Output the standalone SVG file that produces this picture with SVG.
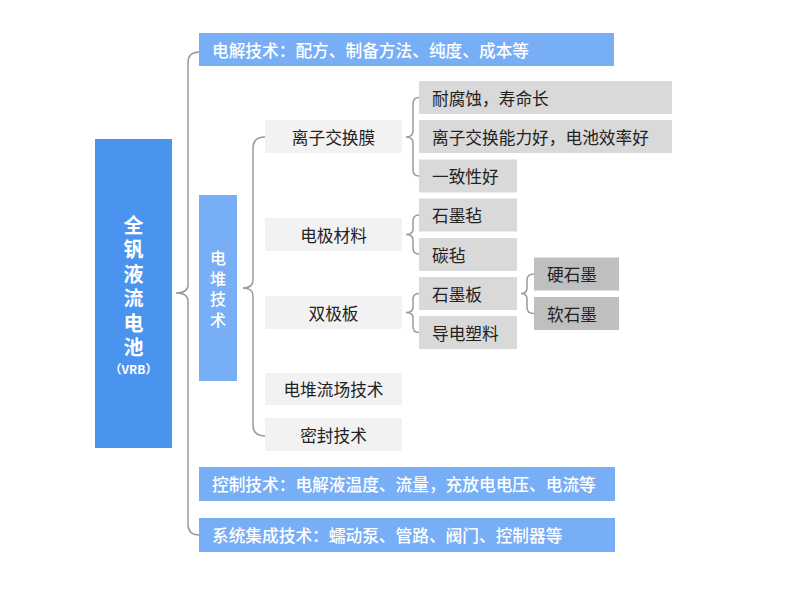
<svg xmlns="http://www.w3.org/2000/svg" width="800" height="609" viewBox="0 0 800 609">
<style>
text{font-family:"Noto Sans CJK SC","Noto Sans",sans-serif;dominant-baseline:central}
.w{fill:#ffffff}
.d{fill:#222222}
.t{font-size:16.7px}
.v{writing-mode:vertical-rl;text-orientation:upright}
.br{fill:none;stroke:#9a9a9a;stroke-width:1.5}
.l2{fill:#f2f2f2}
.l3{fill:#d9d9d9}
.l4{fill:#bfbfbf}
.lb{fill:#78aef5}
</style>
<rect width="800" height="609" fill="#ffffff"/>
<g id="connectors">
<path class="br" d="M199,52 Q188,52 188,63 L188,285 Q188,293 176,293 Q188,293 188,301 L188,524 Q188,535 199,535"/>
<path class="br" d="M265,137 Q253,137 253,148 L253,280 Q253,288 243,288 Q253,288 253,296 L253,425 Q253,436 265,436"/>
<path class="br" d="M419,97.5 Q413,97.5 413,104 L413,131 Q413,137 406,137 Q413,137 413,143 L413,170 Q413,176 419,176"/>
<path class="br" d="M419,215 Q413,215 413,221 L413,229 Q413,234.5 406,234.5 Q413,234.5 413,240 L413,248 Q413,254 419,254"/>
<path class="br" d="M419,293.5 Q413,293.5 413,299.5 L413,307 Q413,312.5 406,312.5 Q413,312.5 413,318 L413,326.5 Q413,332.5 419,332.5"/>
<path class="br" d="M534,274 Q527,274 527,280 L527,288 Q527,293.5 521,293.5 Q527,293.5 527,299 L527,307.5 Q527,313.5 534,313.5"/>
</g>
<g id="root">
<rect x="95" y="139" width="77" height="309" fill="#4a94ef"/>
<text class="w v" x="133.5" y="215" font-size="20" font-weight="bold" letter-spacing="4.5">全钒液流电池</text>
<text class="w" x="133.5" y="368" font-size="12" font-weight="bold" text-anchor="middle">（VRB）</text>
</g>
<g id="electrolyte">
<rect class="lb" x="199" y="33" width="415" height="33"/>
<text class="w t" x="212" y="49.5" font-weight="500">电解技术：配方、制备方法、纯度、成本等</text>
</g>
<g id="stack">
<rect class="lb" x="199" y="195" width="38" height="186"/>
<text class="w v" x="218" y="250" font-size="16" font-weight="500" letter-spacing="4.5">电堆技术</text>
</g>
<g id="membrane">
<rect class="l2" x="265" y="120" width="137" height="33"/>
<text class="d t" x="333.5" y="136.5" text-anchor="middle">离子交换膜</text>
</g>
<g id="electrode">
<rect class="l2" x="265" y="218" width="137" height="33"/>
<text class="d t" x="333.5" y="234.5" text-anchor="middle">电极材料</text>
</g>
<g id="bipolar">
<rect class="l2" x="265" y="296" width="137" height="33"/>
<text class="d t" x="333.5" y="312.5" text-anchor="middle">双极板</text>
</g>
<g id="flowfield">
<rect class="l2" x="265" y="373" width="137" height="32"/>
<text class="d t" x="333.5" y="389" text-anchor="middle">电堆流场技术</text>
</g>
<g id="seal">
<rect class="l2" x="265" y="418" width="137" height="33"/>
<text class="d t" x="333.5" y="434.5" text-anchor="middle">密封技术</text>
</g>
<g id="corrosion">
<rect class="l3" x="419" y="81" width="253" height="33"/>
<text class="d t" x="432" y="97.5">耐腐蚀，寿命长</text>
</g>
<g id="ionexchange">
<rect class="l3" x="419" y="120" width="253" height="33"/>
<text class="d t" x="432" y="136.5">离子交换能力好，电池效率好</text>
</g>
<g id="consistency">
<rect class="l3" x="419" y="159.5" width="98" height="33"/>
<text class="d t" x="432" y="176">一致性好</text>
</g>
<g id="graphitefelt">
<rect class="l3" x="419" y="198.5" width="98" height="33"/>
<text class="d t" x="432" y="215">石墨毡</text>
</g>
<g id="carbonfelt">
<rect class="l3" x="419" y="238" width="98" height="33"/>
<text class="d t" x="432" y="254.5">碳毡</text>
</g>
<g id="graphiteplate">
<rect class="l3" x="419" y="277" width="98" height="33"/>
<text class="d t" x="432" y="293.5">石墨板</text>
</g>
<g id="plastic">
<rect class="l3" x="419" y="316" width="98" height="33"/>
<text class="d t" x="432" y="332.5">导电塑料</text>
</g>
<g id="hardgraphite">
<rect class="l4" x="534" y="257.5" width="85" height="33"/>
<text class="d t" x="547" y="274">硬石墨</text>
</g>
<g id="softgraphite">
<rect class="l4" x="534" y="297" width="85" height="33"/>
<text class="d t" x="547" y="313.5">软石墨</text>
</g>
<g id="control">
<rect class="lb" x="199" y="467" width="416" height="34"/>
<text class="w t" x="212" y="484" font-weight="500">控制技术：电解液温度、流量，充放电电压、电流等</text>
</g>
<g id="system">
<rect class="lb" x="199" y="518" width="416" height="34"/>
<text class="w t" x="212" y="535" font-weight="500">系统集成技术：蠕动泵、管路、阀门、控制器等</text>
</g>
</svg>
